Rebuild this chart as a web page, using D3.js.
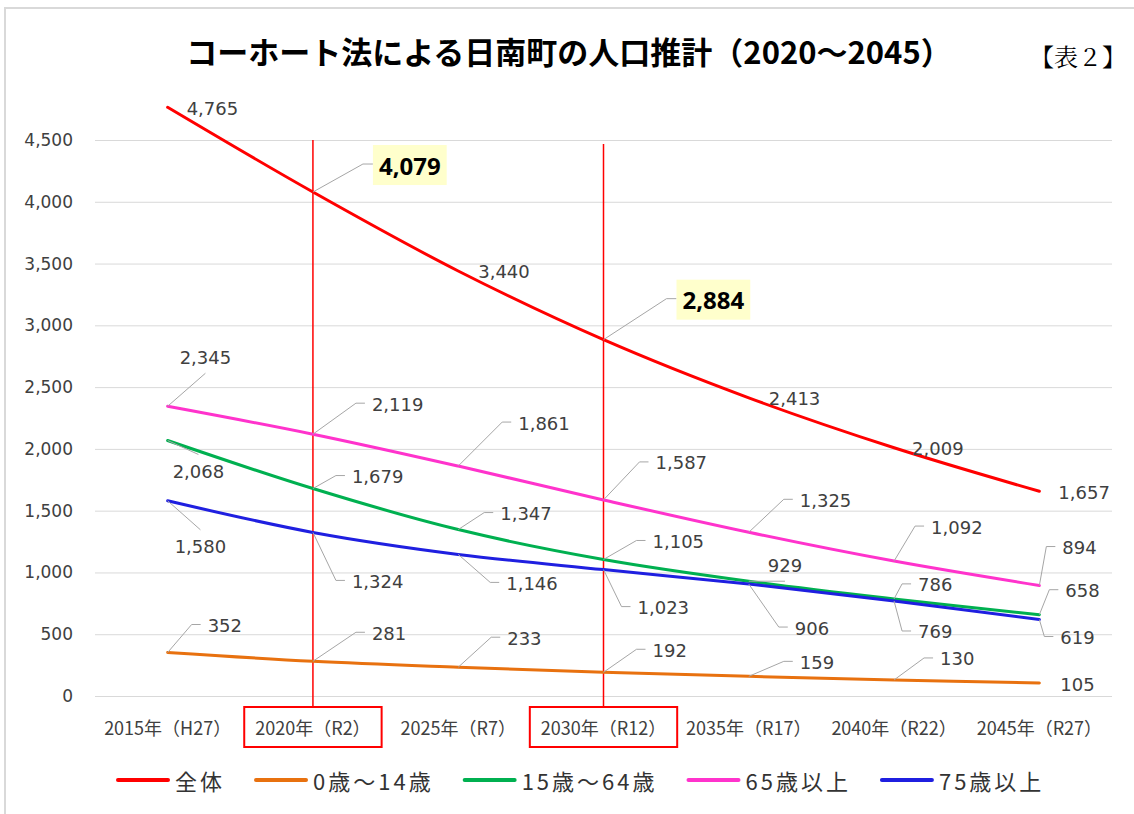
<!DOCTYPE html>
<html lang="ja">
<head>
<meta charset="utf-8">
<title>コーホート法による日南町の人口推計</title>
<style>
  body { margin: 0; background: #fff; }
  svg { display: block; }
  .grid line { stroke: #d9d9d9; stroke-width: 1; }
  .tick text { font-family: "DejaVu Sans", sans-serif; fill: #404040; }
  .lbl { font-family: "DejaVu Sans", sans-serif; font-size: 18px; fill: #404040; }
  .lbl-bold { font-family: "Noto Sans", sans-serif; font-size: 24px; font-weight: bold; fill: #000; }
  .leader { stroke: #a6a6a6; stroke-width: 1; fill: none; }
</style>
</head>
<body>
<script src="https://cdnjs.cloudflare.com/ajax/libs/d3/7.8.5/d3.min.js"></script>
<script>
// data
var years = ["2015年（H27）", "2020年（R2）", "2025年（R7）", "2030年（R12）", "2035年（R17）", "2040年（R22）", "2045年（R27）"];
var seriesNames = ["全体", "0歳～14歳", "15歳～64歳", "65歳以上", "75歳以上"];
var total     = [4765, 4079, 3440, 2884, 2413, 2009, 1657];
var age0to14  = [352, 281, 233, 192, 159, 130, 105];
var age15to64 = [2068, 1679, 1347, 1105, 929, 786, 658];
var age65plus = [2345, 2119, 1861, 1587, 1325, 1092, 894];
var age75plus = [1580, 1324, 1146, 1023, 906, 769, 619];
var yTicks = [0, 500, 1000, 1500, 2000, 2500, 3000, 3500, 4000, 4500];
var highlightYears = ["2020年（R2）", "2030年（R12）"];
var boldPoints = [[0, 1], [0, 3]];   // [series, year] shown large

// label placement (dx, dy from point to label left / middle)
var labelOffsets = [
  [[19, 1], [66, -27], [20, 1], [79, -40], [20, 1], [18, 1], [19, 1]],
  [[40, -27], [59, -28], [49, -29], [49, -22], [51, -14], [46, -21], [21, 1]],
  [[5, 31], [39, -12], [42, -16], [49, -18], [19, -16], [24, -14], [26, -24]],
  [[12, -49], [59, -30], [60, -43], [52, -37], [51, -32], [37, -34], [23, -38]],
  [[7, 46], [39, 49], [48, 29], [34, 38], [46, 44], [24, 31], [21, 18]]
];
var colors = ["#ff0000", "#e8710f", "#00b050", "#ff33cc", "#1f1fe0"];

var seriesValues = [total, age0to14, age15to64, age65plus, age75plus];
var W = 1134, H = 814;

var svg = d3.select("body").append("svg")
    .attr("width", W)
    .attr("height", H);

// frame
svg.append("rect")
    .attr("x", 5).attr("y", 8)
    .attr("width", W + 20).attr("height", H + 20)
    .attr("fill", "#fff")
    .attr("stroke", "#d9d9d9").attr("stroke-width", 2);

var x = d3.scaleBand().domain(years).range([95, 1112]);
var y = d3.scaleLinear().domain([0, 4500]).range([696, 140]);
var cx = function(d) { return x(d) + x.bandwidth() / 2; };

// title
svg.append("text")
    .attr("x", 569).attr("y", 50)
    .attr("text-anchor", "middle")
    .attr("dominant-baseline", "central")
    .style("font-family", "'Noto Sans CJK JP', sans-serif")
    .style("font-size", "31px")
    .style("font-weight", "bold")
    .text("コーホート法による日南町の人口推計（2020～2045）");

svg.append("text")
    .attr("x", 1078).attr("y", 55)
    .attr("text-anchor", "middle")
    .attr("dominant-baseline", "central")
    .style("font-family", "'Noto Serif CJK JP', 'Noto Sans CJK JP', serif")
    .style("font-size", "24px")
    .text("【表２】");

// y axis + gridlines
var yAxis = svg.append("g")
    .attr("class", "grid")
    .attr("transform", "translate(95,0)")
    .call(d3.axisLeft(y)
        .tickValues(yTicks)
        .tickSize(-(1112 - 95))
        .tickPadding(22)
        .tickFormat(d3.format(",")));
yAxis.select(".domain").remove();
yAxis.selectAll("text").style("font-size", "17px");

// x axis
var xAxis = svg.append("g")
    .attr("transform", "translate(0,696)")
    .call(d3.axisBottom(x).tickSize(0));
xAxis.select(".domain").remove();
xAxis.selectAll("text")
    .attr("y", 31)
    .attr("dy", null)
    .attr("dominant-baseline", "central")
    .style("font-family", "'Noto Sans CJK JP', sans-serif")
    .style("font-size", "18px");

// highlight lines and boxes
highlightYears.forEach(function(yr, i) {
    var px = cx(yr);
    svg.append("line")
        .attr("x1", px).attr("x2", px)
        .attr("y1", y(4500) + i * 4).attr("y2", 707)
        .attr("stroke", "#ff0000").attr("stroke-width", 1.5);
    var t = xAxis.selectAll(".tick").filter(function(d) { return d === yr; }).select("text").node();
    var w = t.getComputedTextLength();
    svg.append("rect")
        .attr("x", cx(yr) - w / 2 - 11)
        .attr("y", 707)
        .attr("width", w + 22)
        .attr("height", 40)
        .attr("fill", "none")
        .attr("stroke", "#ff0000").attr("stroke-width", 2);
});

// lines
var line = d3.line()
    .x(function(d, i) { return cx(years[i]); })
    .y(function(d) { return y(d); })
    .curve(d3.curveCatmullRom.alpha(0.5));

seriesValues.forEach(function(vals, s) {
    svg.append("path")
        .datum(vals)
        .attr("d", line)
        .attr("fill", "none")
        .attr("stroke", colors[s])
        .attr("stroke-width", 3)
        .attr("stroke-linecap", "round")
        .attr("stroke-linejoin", "round");
});

// data labels
var fmt = d3.format(",");
var labels = svg.append("g");
var leaders = labels.append("g");

seriesValues.forEach(function(vals, s) {
    vals.forEach(function(v, i) {
        var px = cx(years[i]), py = y(v);
        var off = labelOffsets[s][i];
        var lx = px + off[0], ly = py + off[1];
        var bold = boldPoints.some(function(b) { return b[0] === s && b[1] === i; });
        var g = labels.append("g");
        var t = g.append("text")
            .attr("class", bold ? "lbl-bold" : "lbl")
            .attr("x", lx).attr("y", ly)
            .attr("dominant-baseline", "central")
            .text(fmt(v));
        var w = t.node().getComputedTextLength();
        var end = lx - 7;
        if (bold) {
            g.insert("rect", "text")
                .attr("x", lx - 6).attr("y", ly - 20)
                .attr("width", w + 12).attr("height", 40)
                .attr("fill", "#ffffcc");
            end = lx - 6;
        }
        if (off[0] < 25 && Math.abs(off[1]) < 5) return;
        var pts;
        if (lx - 16 < px + 5) {
            // label sits right above / below the point
            var mx = lx + w / 2;
            var my = off[1] > 0 ? ly - 17 : ly + 16;
            pts = [[px, py], [mx, my]];
        } else {
            pts = [[px, py], [lx - 16, ly - 1], [end, ly - 1]];
        }
        leaders.append("path")
            .attr("class", "leader")
            .attr("d", d3.line()(pts));
    });
});

// legend
var legend = svg.append("g").attr("transform", "translate(0,780)");
var lxPos = 118;
seriesNames.forEach(function(name, s) {
    legend.append("line")
        .attr("x1", lxPos).attr("x2", lxPos + 50)
        .attr("stroke", colors[s]).attr("stroke-width", 4)
        .attr("stroke-linecap", "round");
    var t = legend.append("text")
        .attr("x", lxPos + 57)
        .attr("dominant-baseline", "central")
        .style("font-family", "'Noto Sans CJK JP', sans-serif")
        .style("font-size", "22px")
        .style("letter-spacing", "3px")
        .style("fill", "#333")
        .text(name);
    lxPos += 57 + t.node().getComputedTextLength() + 31;
});
</script>
</body>
</html>
